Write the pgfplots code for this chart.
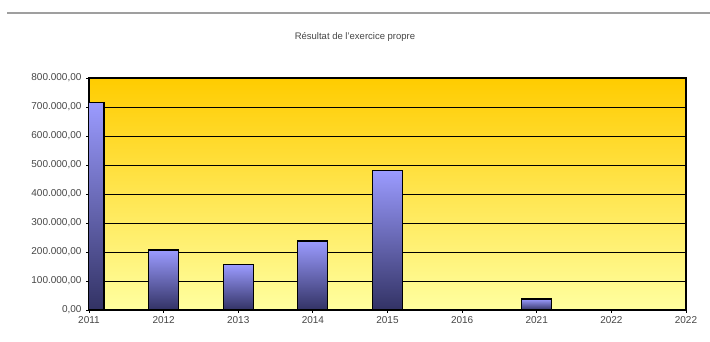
\documentclass[border=0pt]{standalone}
\usepackage{pgfplots}
\pgfplotsset{compat=1.18}
\usepackage{fontspec}
\setmainfont{Liberation Sans}
\definecolor{bgtop}{RGB}{255,204,0}
\definecolor{bgbot}{RGB}{255,255,160}
\definecolor{bartop}{RGB}{155,155,255}
\definecolor{barbot}{RGB}{50,50,100}
\definecolor{lbl}{RGB}{70,70,70}
\pgfplotsset{mybar/.style={ybar, bar width=30pt, bar shift=0pt, draw=black, line width=1.1pt, top color=bartop, bottom color=barbot, mark=none}}
\begin{document}
\begin{tikzpicture}[x=1pt,y=1pt]
\useasboundingbox (0,0) rectangle (710,342);
\fill[white] (0,0) rectangle (710,342);
\draw[gray!75, line width=2.5pt] (7,329) -- (710,329);
\node[font=\fontsize{9.5}{11}\selectfont, text=lbl] at (355,305) {Résultat de l'exercice propre};
\begin{axis}[
  at={(89pt,32pt)}, anchor=south west,
  scale only axis, width=597pt, height=232pt,
  xmin=0, xmax=8, ymin=0, ymax=800000,
  xtick={0,...,8},
  xticklabels={2011,2012,2013,2014,2015,2016,2021,2022,2022},
  ytick={0,100000,...,800000},
  scaled y ticks=false,
  yticklabel={\pgfmathprintnumber[fixed, fixed zerofill, precision=2, 1000 sep={.}, use comma]{\tick}},
  /pgf/number format/assume math mode=true,
  ticklabel style={font=\fontsize{10}{11}\selectfont, text=lbl},
  tick align=outside, major tick length=3pt,
  tick style={black, line width=0.8pt},
  xtick pos=bottom, ytick pos=left,
  ymajorgrids, grid style={black, line width=0.9pt},
  axis line style={black, line width=1.3pt},
  axis background/.style={top color=bgtop, bottom color=bgbot},
  yticklabel style={xshift=-1pt},
]
\addplot[mybar] coordinates {(0,716000)};
\addplot[mybar] coordinates {(1,207000)};
\addplot[mybar] coordinates {(2,156000)};
\addplot[mybar] coordinates {(3,238000)};
\addplot[mybar] coordinates {(4,480000)};
\addplot[mybar] coordinates {(6,38000)};
\end{axis}
\end{tikzpicture}
\end{document}
